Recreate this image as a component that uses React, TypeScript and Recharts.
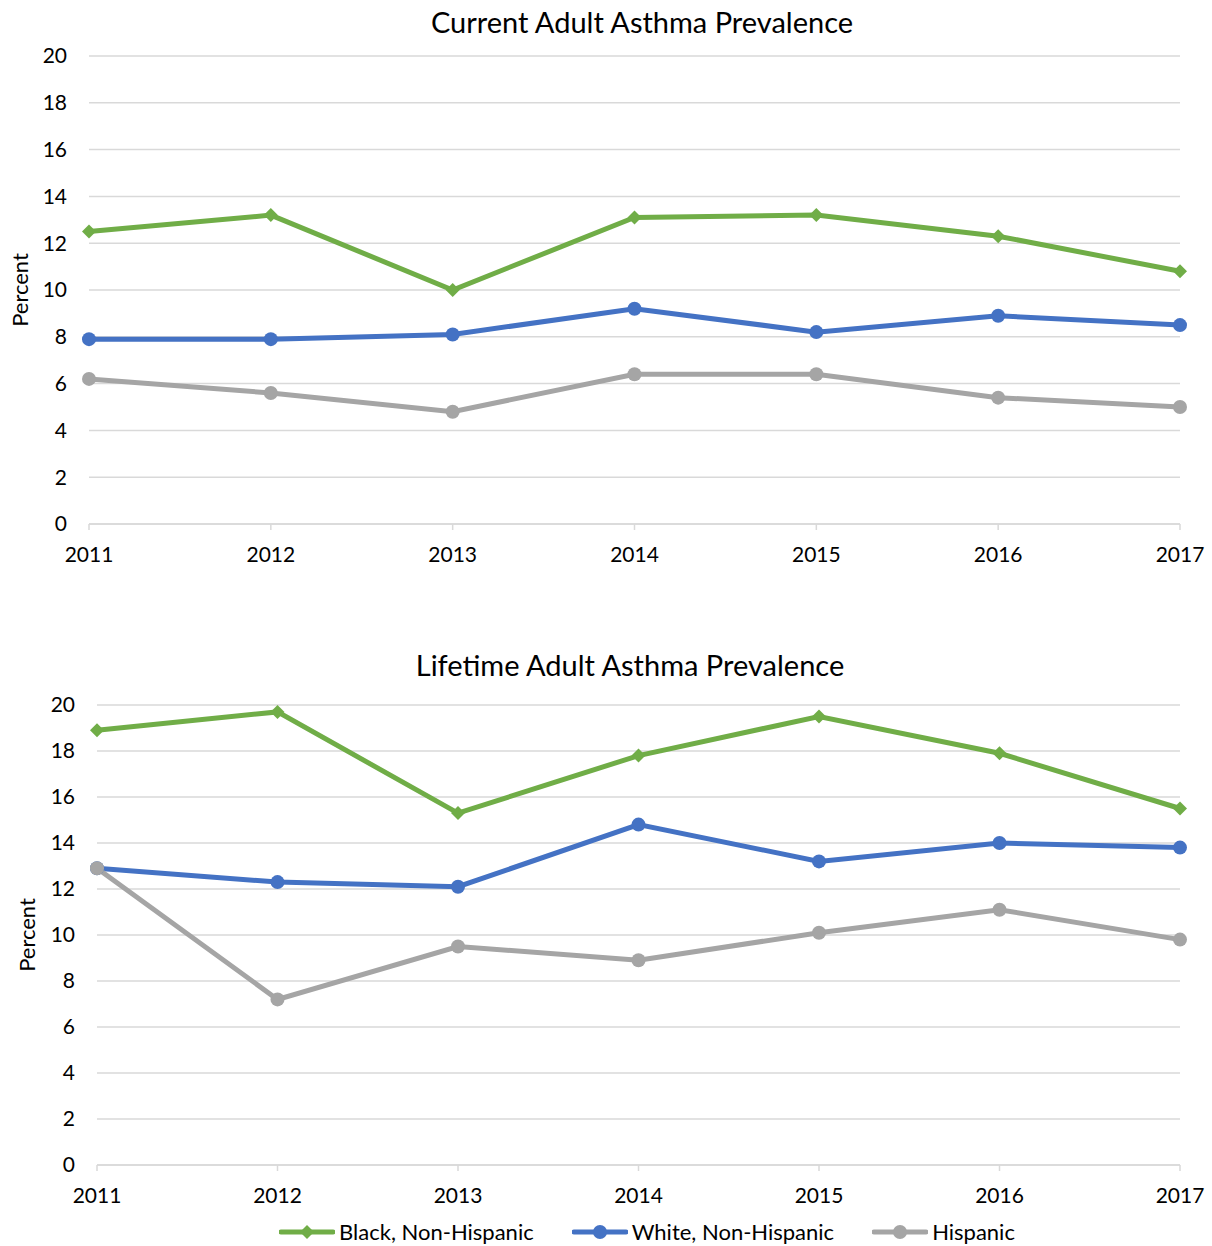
import { LineChart, Line, XAxis, YAxis, CartesianGrid } from "recharts";

const years = ["2011", "2012", "2013", "2014", "2015", "2016", "2017"];
const currentBlack = [12.5, 13.2, 10.0, 13.1, 13.2, 12.3, 10.8];
const currentWhite = [7.9, 7.9, 8.1, 9.2, 8.2, 8.9, 8.5];
const currentHispanic = [6.2, 5.6, 4.8, 6.4, 6.4, 5.4, 5.0];
const lifetimeBlack = [18.9, 19.7, 15.3, 17.8, 19.5, 17.9, 15.5];
const lifetimeWhite = [12.9, 12.3, 12.1, 14.8, 13.2, 14.0, 13.8];
const lifetimeHispanic = [12.9, 7.2, 9.5, 8.9, 10.1, 11.1, 9.8];
const yTicks = [0, 2, 4, 6, 8, 10, 12, 14, 16, 18, 20];
const seriesNames = ["Black, Non-Hispanic", "White, Non-Hispanic", "Hispanic"];

const GREEN = "#70AD47";
const BLUE = "#4472C4";
const GRAY = "#A5A5A5";
const GRID = "#D9D9D9";
const FONT = "Lato, 'Open Sans', sans-serif";

const currentData = years.map((year, i) => ({
    year,
    black: currentBlack[i],
    white: currentWhite[i],
    hispanic: currentHispanic[i],
}));

const lifetimeData = years.map((year, i) => ({
    year,
    black: lifetimeBlack[i],
    white: lifetimeWhite[i],
    hispanic: lifetimeHispanic[i],
}));

// diamond marker for the green series
const Diamond = (props: any) => {
    const { cx, cy, index } = props;
    if (cx == null || cy == null) return <g key={index} />;
    const s = 7;
    return (
        <polygon
            key={index}
            points={`${cx},${cy - s} ${cx + s},${cy} ${cx},${cy + s} ${cx - s},${cy}`}
            fill={GREEN}
        />
    );
};

function Panel({ data, top, height, margin, labelOffset }: any) {
    return (
        <div style={{ position: "absolute", left: 0, top }}>
            <LineChart width={1212} height={height} data={data} margin={margin}>
                <CartesianGrid vertical={false} stroke={GRID} strokeWidth={1.5} />
                <XAxis
                    dataKey="year"
                    interval={0}
                    tickSize={6}
                    tickMargin={17}
                    tickLine={{ stroke: GRID, strokeWidth: 1.5 }}
                    axisLine={{ stroke: GRID, strokeWidth: 1.5 }}
                    tick={{ fill: "#000", fontSize: 21, fontFamily: FONT }}
                />
                <YAxis
                    width={margin.yWidth}
                    domain={[0, 20]}
                    ticks={yTicks}
                    interval={0}
                    axisLine={false}
                    tickLine={false}
                    tickMargin={16}
                    tick={{ fill: "#000", fontSize: 21, fontFamily: FONT }}
                    label={{
                        value: "Percent",
                        angle: -90,
                        position: "insideLeft",
                        offset: labelOffset,
                        style: { textAnchor: "middle", fill: "#000", fontSize: 22, fontFamily: FONT },
                    }}
                />
                <Line dataKey="black" stroke={GREEN} strokeWidth={5} dot={Diamond} isAnimationActive={false} />
                <Line dataKey="white" stroke={BLUE} strokeWidth={5} dot={{ r: 7, fill: BLUE, stroke: BLUE, strokeWidth: 0 }} isAnimationActive={false} />
                <Line dataKey="hispanic" stroke={GRAY} strokeWidth={5} dot={{ r: 7, fill: GRAY, stroke: GRAY, strokeWidth: 0 }} isAnimationActive={false} />
            </LineChart>
        </div>
    );
}

function LegendIcon({ color, diamond }: { color: string; diamond?: boolean }) {
    return (
        <svg width={56} height={20} style={{ marginRight: 4 }}>
            <line x1={2} y1={10} x2={54} y2={10} stroke={color} strokeWidth={5} strokeLinecap="round" />
            {diamond ? (
                <polygon points="28,3 35,10 28,17 21,10" fill={color} />
            ) : (
                <circle cx={28} cy={10} r={7} fill={color} />
            )}
        </svg>
    );
}

function App() {
    const colors = [GREEN, BLUE, GRAY];
    return (
        <div style={{ position: "absolute", left: 0, top: 0, width: 1212, height: 1246, background: "#fff", fontFamily: FONT }}>
            <div style={{ position: "absolute", top: 3, left: 0, width: 1284, textAlign: "center", fontSize: 29, lineHeight: "38px" }}>
                Current Adult Asthma Prevalence
            </div>
            <Panel
                data={currentData}
                top={0}
                height={600}
                margin={{ top: 56, right: 32, left: 0, bottom: 46, yWidth: 89 }}
                labelOffset={20}
            />
            <div style={{ position: "absolute", top: 646, left: 0, width: 1260, textAlign: "center", fontSize: 29, lineHeight: "38px" }}>
                Lifetime Adult Asthma Prevalence
            </div>
            <Panel
                data={lifetimeData}
                top={600}
                height={646}
                margin={{ top: 105, right: 32, left: 0, bottom: 51, yWidth: 97 }}
                labelOffset={27}
            />
            <div
                style={{
                    position: "absolute",
                    top: 1220,
                    left: 0,
                    width: 1294,
                    display: "flex",
                    justifyContent: "center",
                    alignItems: "center",
                    fontSize: 22,
                    lineHeight: "24px",
                }}
            >
                {seriesNames.map((name, i) => (
                    <div key={name} style={{ display: "flex", alignItems: "center", marginRight: i < 2 ? 38 : 0 }}>
                        <LegendIcon color={colors[i]} diamond={i === 0} />
                        <span>{name}</span>
                    </div>
                ))}
            </div>
        </div>
    );
}

export default App;
